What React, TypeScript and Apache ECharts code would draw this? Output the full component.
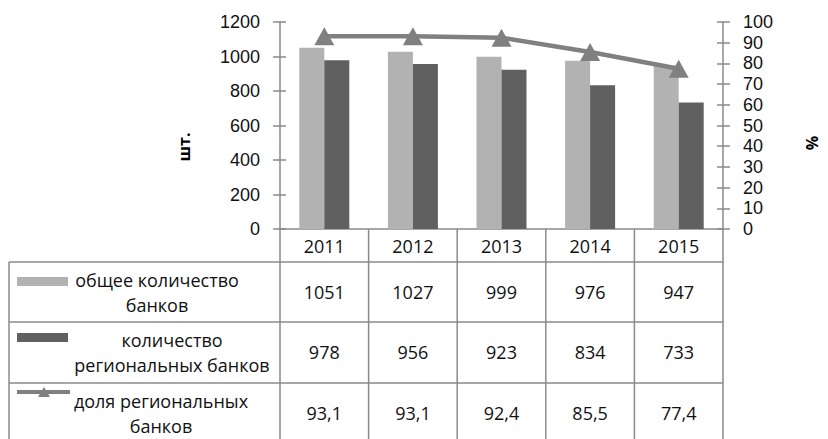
import React, { useEffect, useRef } from "react";
import * as echarts from "echarts";

const years = ["2011", "2012", "2013", "2014", "2015"];
const totalBanks = [1051, 1027, 999, 976, 947];
const regionalBanks = [978, 956, 923, 834, 733];
const regionalShare = [93.1, 93.1, 92.4, 85.5, 77.4];
const seriesNames = [
  "общее количество\nбанков",
  "количество\nрегиональных банков",
  "доля региональных\nбанков",
];
const leftAxisName = "шт.";
const rightAxisName = "%";

const FONT = "Open Sans";
const AXIS_FONT = "Liberation Sans";
const W = 828;
const H = 439;
const GRID = { left: 280, right: 105, top: 22, bottom: 210 };
const LINE_COLOR = "#8a8a8a";
const LIGHT = "#b2b2b2";
const DARK = "#606060";
const SHARE = "#808080";

const fmt = (v: number, decimals: number) =>
  decimals ? v.toFixed(decimals).replace(".", ",") : String(v);

export default function App() {
  const ref = useRef<HTMLDivElement>(null);
  useEffect(() => {
    if (!ref.current) return;
    const chart = echarts.init(ref.current, null, { renderer: "svg" });

    const plotLeft = GRID.left;
    const plotRight = W - GRID.right;
    const plotBottom = H - GRID.bottom;
    const colW = (plotRight - plotLeft) / years.length;
    const headerBottom = plotBottom + 33;
    const rowTops = [headerBottom, headerBottom + 60, headerBottom + 121];
    const rowH = 60.5;
    const tableLeft = 9;

    const graphic: any[] = [];
    rowTops.forEach((y) => {
      graphic.push({
        type: "line",
        shape: { x1: tableLeft, y1: y, x2: plotRight, y2: y },
        style: { stroke: LINE_COLOR, lineWidth: 1.5 },
        silent: true,
      });
    });
    graphic.push({
      type: "line",
      shape: { x1: tableLeft, y1: headerBottom, x2: tableLeft, y2: H },
      style: { stroke: LINE_COLOR, lineWidth: 1.5 },
    });
    for (let i = 0; i <= years.length; i++) {
      const x = plotLeft + i * colW;
      graphic.push({
        type: "line",
        shape: { x1: x, y1: plotBottom, x2: x, y2: H },
        style: { stroke: LINE_COLOR, lineWidth: 1.5 },
      });
    }
    const rows = [
      { data: totalBanks, dec: 0 },
      { data: regionalBanks, dec: 0 },
      { data: regionalShare, dec: 1 },
    ];
    rows.forEach((r, ri) => {
      r.data.forEach((v, ci) => {
        graphic.push({
          type: "text",
          x: plotLeft + (ci + 0.5) * colW,
          y: rowTops[ri] + rowH / 2,
          style: {
            text: fmt(v, r.dec),
            font: `18px "${FONT}"`,
            fill: "#111",
            align: "center",
            verticalAlign: "middle",
          },
        });
      });
    });
    const labelX = [157, 172, 161];
    seriesNames.forEach((name, ri) => {
      const cy = rowTops[ri] + rowH / 2;
      graphic.push({
        type: "text",
        x: labelX[ri],
        y: cy,
        style: {
          text: name,
          font: `18px "${FONT}"`,
          fill: "#111",
          align: "center",
          verticalAlign: "middle",
          lineHeight: 25,
        },
      });
    });
    graphic.push({
      type: "rect",
      shape: { x: 17, y: rowTops[0] + 15, width: 51, height: 9 },
      style: { fill: LIGHT },
    });
    graphic.push({
      type: "rect",
      shape: { x: 17, y: rowTops[1] + 11, width: 51, height: 9 },
      style: { fill: DARK },
    });
    graphic.push({
      type: "line",
      shape: { x1: 17, y1: rowTops[2] + 9, x2: 70, y2: rowTops[2] + 9 },
      style: { stroke: SHARE, lineWidth: 4 },
    });
    graphic.push({
      type: "polygon",
      shape: {
        points: [
          [44, rowTops[2] + 4],
          [50, rowTops[2] + 14],
          [38, rowTops[2] + 14],
        ],
      },
      style: { fill: SHARE },
    });
    graphic.push({
      type: "text",
      x: 184,
      y: 147,
      rotation: Math.PI / 2,
      style: {
        text: leftAxisName,
        font: `bold 16px "${FONT}"`,
        fill: "#000",
        align: "center",
        verticalAlign: "middle",
      },
    });
    graphic.push({
      type: "text",
      x: 812,
      y: 143,
      rotation: Math.PI / 2,
      style: {
        text: rightAxisName,
        font: `bold 16px "${FONT}"`,
        fill: "#000",
        align: "center",
        verticalAlign: "middle",
      },
    });

    const axisLine = { show: true, lineStyle: { color: LINE_COLOR, width: 1.5 } };
    const labelStyle = { fontFamily: FONT, fontSize: 18, color: "#111" };
    const yLabelStyle = { fontFamily: AXIS_FONT, fontSize: 18, color: "#111", lineHeight: 18 };
    const plain = (v: number) => String(v);

    chart.setOption({
      animation: false,
      textStyle: { fontFamily: FONT },
      grid: { ...GRID, containLabel: false },
      xAxis: {
        type: "category",
        data: years,
        axisLine,
        axisTick: { show: false },
        axisLabel: { ...labelStyle, margin: 8 },
        splitLine: { show: false },
      },
      yAxis: [
        {
          type: "value",
          position: "left",
          min: 0,
          max: 1200,
          interval: 200,
          axisLine,
          axisTick: { show: true, length: 7, lineStyle: { color: LINE_COLOR, width: 1.5 } },
          axisLabel: { ...yLabelStyle, margin: 20, formatter: plain },
          splitLine: { show: false },
        },
        {
          type: "value",
          position: "right",
          min: 0,
          max: 100,
          interval: 10,
          axisLine,
          axisTick: { show: true, length: 7, lineStyle: { color: LINE_COLOR, width: 1.5 } },
          axisLabel: { ...yLabelStyle, margin: 20, formatter: plain },
          splitLine: { show: false },
        },
        {
          type: "value",
          position: "left",
          min: 0,
          max: 1200,
          interval: 200,
          axisLine: { show: false },
          axisTick: { show: true, inside: true, length: 6, lineStyle: { color: LINE_COLOR, width: 1.5 } },
          axisLabel: { show: false },
          splitLine: { show: false },
        },
        {
          type: "value",
          position: "right",
          min: 0,
          max: 100,
          interval: 10,
          axisLine: { show: false },
          axisTick: { show: true, inside: true, length: 6, lineStyle: { color: LINE_COLOR, width: 1.5 } },
          axisLabel: { show: false },
          splitLine: { show: false },
        },
      ],
      series: [
        {
          name: seriesNames[0],
          type: "bar",
          data: totalBanks,
          barWidth: 25,
          barGap: "0%",
          itemStyle: { color: LIGHT },
        },
        {
          name: seriesNames[1],
          type: "bar",
          data: regionalBanks,
          barWidth: 25,
          barGap: "0%",
          itemStyle: { color: DARK },
        },
        {
          name: seriesNames[2],
          type: "line",
          yAxisIndex: 1,
          data: regionalShare,
          symbol: "triangle",
          symbolSize: [20, 18],
          itemStyle: { color: SHARE },
          lineStyle: { color: SHARE, width: 4.5 },
          z: 5,
        },
      ],
      graphic,
    });
    return () => chart.dispose();
  }, []);
  return (
    <div
      ref={ref}
      style={{ position: "absolute", left: 0, top: 0, width: W, height: H, background: "#fff" }}
    />
  );
}
